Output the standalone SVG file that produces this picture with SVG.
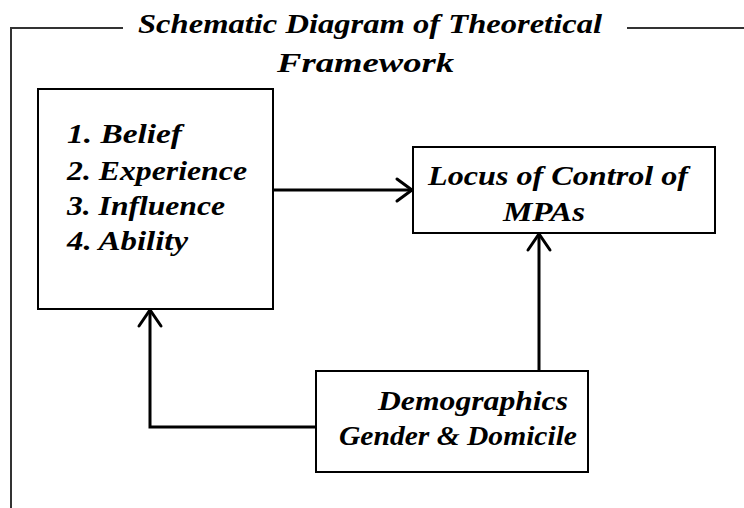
<svg xmlns="http://www.w3.org/2000/svg" width="744" height="508" viewBox="0 0 744 508">
<style>
  .t { font-family: "Liberation Serif", "Times New Roman", serif; font-weight: bold; font-style: italic; font-size: 28px; fill: #000; }
  .box { fill: #fff; stroke: #000; stroke-width: 2; }
  .frame { fill: none; stroke: #333; stroke-width: 2; }
  .conn { fill: none; stroke: #000; stroke-width: 3; stroke-linejoin: miter; }
  .head { fill: none; stroke: #000; stroke-width: 3; stroke-linecap: round; stroke-linejoin: miter; }
</style>
<rect width="744" height="508" fill="#fff"/>
<g id="frame">
  <polyline class="frame" points="123,28 11,28 11,508"/>
  <line class="frame" x1="627" y1="28" x2="744" y2="28"/>
  <text class="t" x="138" y="33" textLength="464" lengthAdjust="spacingAndGlyphs">Schematic Diagram of Theoretical</text>
  <text class="t" x="277" y="72" textLength="177" lengthAdjust="spacingAndGlyphs">Framework</text>
</g>
<g id="connectors">
  <line class="conn" x1="273" y1="190" x2="412" y2="190"/>
  <polyline class="head" points="397,179 412,190 397,201"/>
  <line class="conn" x1="539" y1="371" x2="539" y2="234"/>
  <polyline class="head" points="528,250 539,234 550,250"/>
  <polyline class="conn" points="316,427 150,427 150,310"/>
  <polyline class="head" points="139,326 150,310 161,326"/>
</g>
<g id="factors">
  <rect class="box" x="38" y="89" width="235" height="220"/>
  <text class="t" x="67" y="143" textLength="115" lengthAdjust="spacingAndGlyphs">1. Belief</text>
  <text class="t" x="67" y="180" textLength="180" lengthAdjust="spacingAndGlyphs">2. Experience</text>
  <text class="t" x="67" y="215" textLength="158" lengthAdjust="spacingAndGlyphs">3. Influence</text>
  <text class="t" x="67" y="250" textLength="121" lengthAdjust="spacingAndGlyphs">4. Ability</text>
</g>
<g id="locus">
  <rect class="box" x="413" y="147" width="302" height="86"/>
  <text class="t" x="428" y="185" textLength="260" lengthAdjust="spacingAndGlyphs">Locus of Control of</text>
  <text class="t" x="503" y="221" textLength="82" lengthAdjust="spacingAndGlyphs">MPAs</text>
</g>
<g id="demographics">
  <rect class="box" x="316" y="371" width="272" height="101"/>
  <text class="t" x="378" y="410" textLength="190" lengthAdjust="spacingAndGlyphs">Demographics</text>
  <text class="t" x="339" y="445" textLength="238" lengthAdjust="spacingAndGlyphs">Gender &amp; Domicile</text>
</g>
</svg>
